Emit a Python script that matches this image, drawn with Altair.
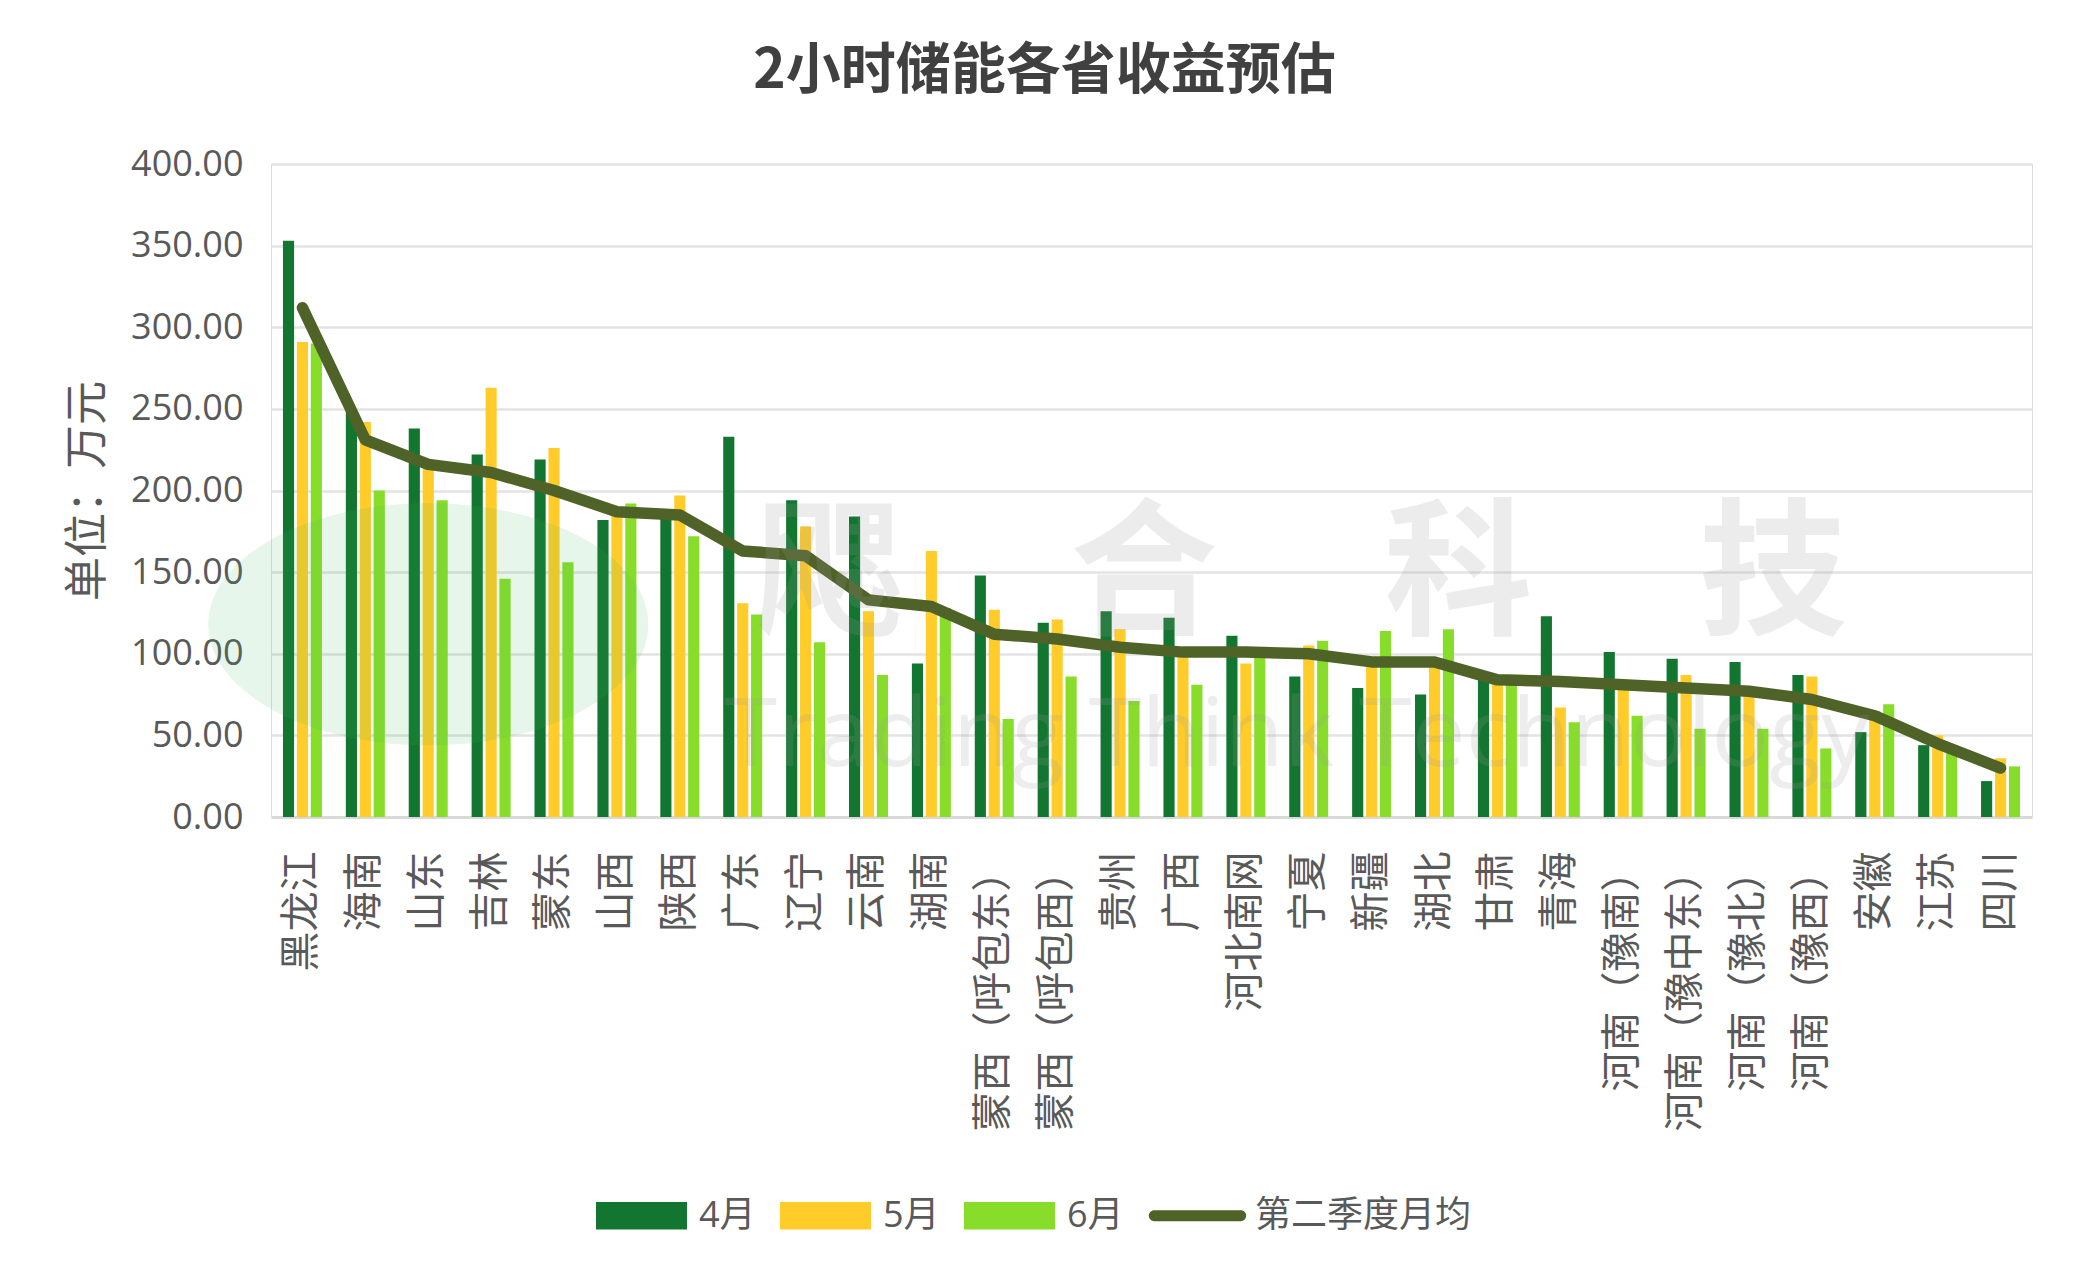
import altair as alt
import pandas as pd

# ---------------- data ----------------
cats = ["黑龙江", "海南", "山东", "吉林", "蒙东", "山西", "陕西", "广东", "辽宁", "云南",
        "湖南", "蒙西（呼包东）", "蒙西（呼包西）", "贵州", "广西", "河北南网", "宁夏", "新疆",
        "湖北", "甘肃", "青海", "河南（豫南）", "河南（豫中东）", "河南（豫北）", "河南（豫西）",
        "安徽", "江苏", "四川"]

apr = [353, 250, 238, 222, 219, 182, 186, 233, 194, 184, 94, 148, 119, 126, 122, 111, 86, 79,
       75, 88, 123, 101, 97, 95, 87, 52, 44, 22]
may = [291, 242, 215, 263, 226, 187, 197, 131, 178, 126, 163, 127, 121, 115, 100, 94, 105, 92,
       95, 82, 67, 80, 87, 80, 86, 65, 50, 36]
jun = [290, 200, 194, 146, 156, 192, 172, 124, 107, 87, 128, 60, 86, 71, 81, 98, 108, 114,
       115, 82, 58, 62, 54, 54, 42, 69, 40, 31]
q2_avg = [312, 231, 216, 211, 200, 187, 185, 163, 160, 133, 129, 112, 109, 104, 101, 101, 100, 95,
          95, 84, 83, 81, 79, 77, 72, 62, 45, 30]

bar_series = ["4月", "5月", "6月"]
line_series = "第二季度月均"
legend_items = ["4月", "5月", "6月", "第二季度月均"]
legend_colors = ["#137630", "#FFCC2A", "#88DD2A", "#4F6228"]
y_ticks = [0, 50, 100, 150, 200, 250, 300, 350, 400]

title_text = "2小时储能各省收益预估"
y_title = "单位：万元"

# watermark (faint logo text)
wm_chars = ["飔", "合", "科", "技"]
wm_char_cats = ["辽宁", "贵州", "湖北", "河南（豫北）"]
wm_char_level = [146, 146, 146, 146]
wm_sub = ["Trading Think Technology"]
wm_sub_cat = ["河北南网"]
wm_sub_level = [31]
logo_cat = ["山东"]
logo_level = [118]

# ---------------- tables ----------------
rows = []
for i, c in enumerate(cats):
    for s, vals in zip(bar_series, [apr, may, jun]):
        rows.append({"cat": c, "series": s, "v": vals[i]})
bars_df = pd.DataFrame(rows)
line_df = pd.DataFrame({"cat": cats, "v": q2_avg})
wm_df = pd.DataFrame({"cat": wm_char_cats, "v": wm_char_level, "t": wm_chars})
wm2_df = pd.DataFrame({"cat": wm_sub_cat, "v": wm_sub_level, "t": wm_sub})
logo_df = pd.DataFrame({"cat": logo_cat, "v": logo_level})

GRAY = "#595959"
SANS = "Open Sans, Noto Sans CJK SC"
CJK = "Noto Sans CJK SC"

x_scale = alt.Scale(domain=cats, paddingInner=0.38, paddingOuter=0.19)
y_scale = alt.Scale(domain=[0, 400], nice=False)

x_axis = alt.Axis(title=None, labelAngle=-90, labelFont=CJK, labelFontSize=40,
                  labelColor=GRAY, labelPadding=34, labelLimit=500, ticks=False,
                  domain=True, domainColor="#d9d9d9", domainWidth=3, grid=False)
y_axis = alt.Axis(title=y_title, values=y_ticks, format=".2f", labelFont=SANS,
                  labelFontSize=36, labelColor=GRAY, labelPadding=28, ticks=False,
                  domain=False, grid=True, gridColor="#e3e3e3", gridWidth=2.5,
                  titleFont=CJK, titleFontSize=44, titleFontWeight="normal",
                  titleColor=GRAY, titlePadding=20)

x_enc = alt.X("cat:N", scale=x_scale, sort=cats, axis=x_axis)
y_enc = alt.Y("v:Q", scale=y_scale, axis=y_axis)

rect_path = "M-1,-0.3L1,-0.3L1,0.3L-1,0.3Z"
line_path = ("M-0.95,-0.12L0.95,-0.12A0.12,0.12 0 0 1 0.95,0.12"
             "L-0.95,0.12A0.12,0.12 0 0 1 -0.95,-0.12Z")

legend = alt.Legend(
    title=None, orient="none", direction="horizontal", legendX=325, legendY=1006,
    padding=0, labelFont=SANS, labelFontSize=36, labelColor=GRAY, labelLimit=500,
    labelOffset=12, columnPadding=24, symbolSize=8281, symbolStrokeWidth=0,
    symbolOpacity=1,
    symbolType={"expr": f"datum.value === '{line_series}' ? '{line_path}' : '{rect_path}'"},
)

bars = alt.Chart(bars_df).mark_bar().encode(
    x=x_enc,
    y=y_enc,
    xOffset=alt.XOffset("series:N", sort=bar_series,
                        scale=alt.Scale(domain=bar_series, paddingInner=0.2, paddingOuter=0)),
    fill=alt.Fill("series:N", scale=alt.Scale(domain=legend_items, range=legend_colors),
                  legend=legend),
)

line = alt.Chart(line_df).mark_line(
    stroke="#4F6228", strokeWidth=11.5, strokeCap="round", strokeJoin="round"
).encode(x=x_enc, y=y_enc)

logo = alt.Chart(logo_df).mark_point(
    shape="M-1,0A1,0.55 0 1,0 1,0A1,0.55 0 1,0 -1,0Z", size=193600, filled=True,
    color="#3CB35A", opacity=0.12, strokeWidth=0
).encode(x=x_enc, y=y_enc)

wm = alt.Chart(wm_df).mark_text(
    font=CJK, fontSize=148, fontWeight="bold", color="#999999", opacity=0.18,
    align="center", baseline="middle", dx=24
).encode(x=x_enc, y=y_enc, text="t:N")

wm2 = alt.Chart(wm2_df).mark_text(
    font="Open Sans", fontSize=96, color="#999999", opacity=0.17,
    align="center", baseline="alphabetic", dx=51
).encode(x=x_enc, y=y_enc, text="t:N")

chart = alt.layer(bars, line, logo, wm, wm2).properties(
    width=1761,
    height=653,
    padding={"left": 263, "top": 156, "right": 39, "bottom": 456},
    autosize=alt.AutoSizeParams(type="none"),
    title=alt.TitleParams(title_text, font=CJK, fontSize=55, fontWeight="bold",
                          color="#404040", anchor="middle", dx=-107, offset=46),
).configure_view(stroke=None).configure(background="white")

chart.save("out.html", embed_options={"renderer": "svg", "actions": False})
